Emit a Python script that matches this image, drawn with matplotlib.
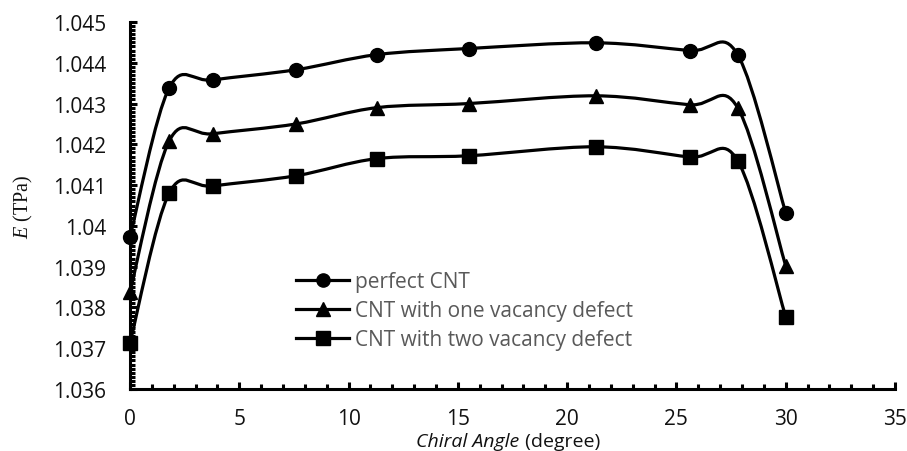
import numpy as np
import matplotlib
matplotlib.use("Agg")
import matplotlib.pyplot as plt
from matplotlib.path import Path
from matplotlib.patches import PathPatch
from matplotlib.ticker import MultipleLocator
from matplotlib.lines import Line2D

plt.rcParams["mathtext.fontset"] = "custom"
plt.rcParams["mathtext.it"] = "Liberation Serif:italic"
plt.rcParams["mathtext.rm"] = "Liberation Serif"

# ---- data ----
chiral_angle = [0, 1.8, 3.8, 7.6, 11.3, 15.5, 21.3, 25.6, 27.8, 30]
perfect_cnt = [1.03973, 1.04339, 1.04358, 1.04383, 1.04420, 1.04435, 1.04449, 1.04430, 1.04420, 1.04032]
one_vacancy = [1.03838, 1.04209, 1.04226, 1.04250, 1.04290, 1.04300, 1.04319, 1.04297, 1.04290, 1.03902]
two_vacancy = [1.03713, 1.04081, 1.04098, 1.04123, 1.04165, 1.04172, 1.04194, 1.04169, 1.04160, 1.03777]
series_labels = ["perfect CNT", "CNT with one vacancy defect", "CNT with two vacancy defect"]
series_markers = ["o", "^", "s"]

x_ticks = [0, 5, 10, 15, 20, 25, 30, 35]
y_ticks = [1.036, 1.037, 1.038, 1.039, 1.04, 1.041, 1.042, 1.043, 1.044, 1.045]
y_tick_labels = ["1.036", "1.037", "1.038", "1.039", "1.04", "1.041", "1.042", "1.043", "1.044", "1.045"]


def smooth_path(xs, ys):
    pts = np.column_stack([xs, ys]).astype(float)
    n = len(pts)
    verts = [pts[0]]
    codes = [Path.MOVETO]
    for i in range(n - 1):
        p_prev = pts[i - 1] if i > 0 else pts[i]
        p0 = pts[i]
        p1 = pts[i + 1]
        p_next = pts[i + 2] if i + 2 < n else pts[i + 1]
        c1 = p0 + (p1 - p_prev) / 6.0
        c2 = p1 - (p_next - p0) / 6.0
        verts += [c1, c2, p1]
        codes += [Path.CURVE4] * 3
    return Path(verts, codes)


W, H = 907, 452
fig = plt.figure(figsize=(W / 100, H / 100), dpi=100)
ax = fig.add_axes([130 / W, 1 - 390 / H, (895 - 130) / W, (390 - 23) / H])

font = "Open Sans"
lw = 2.3
marker_sizes = {"o": 10, "^": 10, "s": 9.5}

for ys, m in zip([perfect_cnt, one_vacancy, two_vacancy], series_markers):
    patch = PathPatch(smooth_path(chiral_angle, ys), facecolor="none",
                      edgecolor="black", lw=lw, capstyle="round", joinstyle="round", zorder=2)
    ax.add_patch(patch)
    ax.plot(chiral_angle, ys, linestyle="none", marker=m, ms=marker_sizes[m],
            color="black", zorder=3, clip_on=False)

ax.set_xlim(0, 35)
ax.set_ylim(1.036, 1.045)
ax.set_xticks(x_ticks)
ax.set_yticks(y_ticks)
ax.set_yticklabels(y_tick_labels)
ax.xaxis.set_minor_locator(MultipleLocator(1))
ax.yaxis.set_minor_locator(MultipleLocator(0.0001))

for s in ["top", "right"]:
    ax.spines[s].set_visible(False)
for s in ["left", "bottom"]:
    ax.spines[s].set_linewidth(2.2)
    ax.spines[s].set_color("black")

ax.tick_params(axis="both", which="major", direction="in", length=5, width=2.2,
               labelsize=15, colors="black", labelcolor="#111111")
ax.tick_params(axis="both", which="minor", direction="in", length=3.5, width=2.2)
ax.tick_params(axis="y", which="major", pad=17)
ax.tick_params(axis="x", which="major", pad=14)
for lab in ax.get_xticklabels() + ax.get_yticklabels():
    lab.set_fontfamily(font)

# axis labels
fig.text(519 / W, 1 - 451 / H, "Chiral Angle", ha="right", va="bottom",
         fontsize=14, family=font, style="italic", color="#111111")
fig.text(520 / W, 1 - 451 / H, " (degree)", ha="left", va="bottom",
         fontsize=14, family=font, color="#111111")
fig.text(23 / W, 1 - 207 / H, r"$E$ (TPa)", rotation=90, ha="center", va="center",
         fontsize=14.5, family="Liberation Serif", color="#111111")

# legend
handles = [Line2D([0], [0], color="black", lw=lw, marker=m, ms=9.5) for m in series_markers]
leg = fig.legend(handles, series_labels, loc="upper left",
                 bbox_to_anchor=(296 / W, 1 - 272 / H), frameon=False,
                 prop={"family": font, "size": 15}, handlelength=2.55,
                 handletextpad=0.3, labelspacing=0.38, borderpad=0, borderaxespad=0)
for t in leg.get_texts():
    t.set_color("#595959")

fig.savefig("out.png", dpi=100)
